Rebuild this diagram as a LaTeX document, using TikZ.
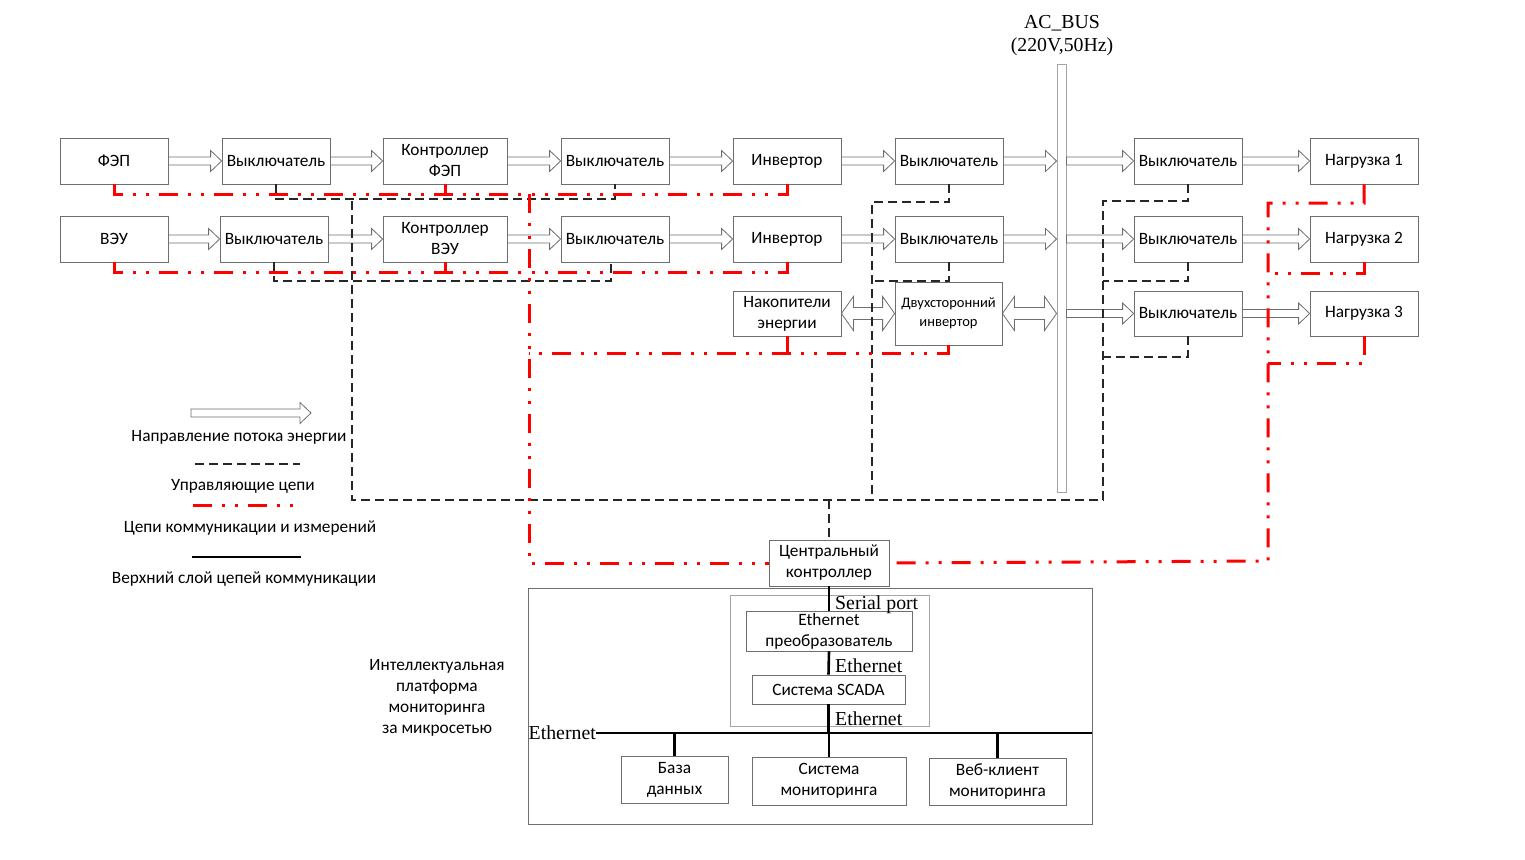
\documentclass[tikz,border=0pt]{standalone}
\usepackage{fontspec}
\setmainfont{Carlito}
\newfontfamily\tms{Liberation Serif}
\usetikzlibrary{calc}
\definecolor{boxgray}{RGB}{110,110,110}
\definecolor{busgray}{RGB}{165,165,165}
\definecolor{commred}{RGB}{255,0,0}
\newcommand\fs{\fontsize{17.3}{21}\selectfont}
\newcommand\fss{\fontsize{14.5}{19}\selectfont}
\newcommand\ftm{\tms\fontsize{19.8}{23}\selectfont}
\newcommand\flowarrow[2]{\draw[flow] let \p1=(#1), \p2=(#2) in
  (\x1,\y1+4) -- (\x2-11,\y1+4) -- (\x2-11,\y1+10.5) -- (\x2,\y1) --
  (\x2-11,\y1-10.5) -- (\x2-11,\y1-4) -- (\x1,\y1-4) -- cycle;}
\newcommand\biarrow[2]{\draw[flow] let \p1=(#1), \p2=(#2) in
  (\x1,\y1) -- (\x1+12,\y1+17) -- (\x1+12,\y1+6) -- (\x2-12,\y1+6) -- (\x2-12,\y1+17) -- (\x2,\y1) --
  (\x2-12,\y1-17) -- (\x2-12,\y1-6) -- (\x1+12,\y1-6) -- (\x1+12,\y1-17) -- cycle;}
\begin{document}
\begin{tikzpicture}[x=1pt,y=-1pt,
  box/.style={draw=boxgray, line width=0.8pt, inner sep=0pt, align=center, font=\fs, text=black},
  wh/.style 2 args={minimum width=#1pt, minimum height=#2pt},
  flow/.style={draw=boxgray, fill=white, line width=0.8pt, line join=miter},
  ctrl/.style={draw=black!85, line width=1.9pt, dash pattern=on 9pt off 5pt},
  comm/.style={draw=commred, line width=3pt, dash pattern=on 19pt off 10pt on 3pt off 10pt on 3pt off 10pt},
  upper/.style={draw=black, line width=2.6pt},
  lbl/.style={font=\fs, inner sep=0pt, align=center},
  tlbl/.style={font=\ftm, inner sep=0pt}]
\useasboundingbox (0,0) rectangle (1525,859);
% AC bus
\node[draw=busgray, line width=0.9pt, wh={9}{428}, inner sep=0pt] (bus) at (1061.5,278) {};
\node[font=\ftm, align=center, inner sep=0pt] (buslbl) at (1062,36) {AC\_BUS\\(220V,50Hz)};
% row 1
\node[box, wh={108}{46}] (fep) at (114,161) {ФЭП};
\node[box, wh={108}{46}] (s11) at (276,161) {Выключатель};
\node[box, wh={124}{46}] (cf) at (445,161) {Контроллер\\ФЭП};
\node[box, wh={108}{46}] (s12) at (615,161) {Выключатель};
\node[box, wh={108}{46}] (inv1) at (787,161) {Инвертор};
\node[box, wh={108}{46}] (s13) at (949,161) {Выключатель};
\node[box, wh={108}{46}] (s14) at (1188,161) {Выключатель};
\node[box, wh={108}{46}] (l1) at (1364,161) {Нагрузка 1};
% row 2
\node[box, wh={108}{46}] (veu) at (114,239) {ВЭУ};
\node[box, wh={108}{46}] (s21) at (274,239) {Выключатель};
\node[box, wh={124}{46}] (cv) at (445,239) {Контроллер\\ВЭУ};
\node[box, wh={108}{46}] (s22) at (615,239) {Выключатель};
\node[box, wh={108}{46}] (inv2) at (787,239) {Инвертор};
\node[box, wh={108}{46}] (s23) at (949,239) {Выключатель};
\node[box, wh={108}{46}] (s24) at (1188,239) {Выключатель};
\node[box, wh={108}{46}] (l2) at (1364,239) {Нагрузка 2};
% row 3
\node[box, wh={108}{45}] (acc) at (787,313.5) {Накопители\\энергии};
\node[box, wh={107}{63}, font=\fss] (binv) at (948.5,313.5) {Двухсторонний\\инвертор};
\node[box, wh={108}{45}] (s34) at (1188,313.5) {Выключатель};
\node[box, wh={108}{45}] (l3) at (1364,313.5) {Нагрузка 3};
% central controller and platform
\node[box, wh={120}{46}] (cc) at (829,563) {Центральный\\контроллер};
\node[draw=boxgray, line width=0.8pt, wh={564}{236}, inner sep=0pt] (plat) at (810,706) {};
\node[draw=busgray, line width=0.9pt, wh={199}{131}, inner sep=0pt] (inner) at (829.5,660.5) {};
\node[box, wh={166}{40}] (eth) at (829,631) {Ethernet\\преобразователь};
\node[box, wh={153}{29}] (scada) at (828.5,689.5) {Система SCADA};
\node[box, wh={107}{47}] (db) at (674.5,779.5) {База\\данных};
\node[box, wh={154}{48}] (mon) at (829,781) {Система\\мониторинга};
\node[box, wh={137}{47}] (web) at (997.5,781.5) {Веб-клиент\\мониторинга};
\node[lbl] (platlbl) at (437,698) {Интеллектуальная\\платформа\\мониторинга\\за микросетью};
% upper communication layer
\node[tlbl, anchor=east] (ethlbl) at (596,733) {Ethernet};
\coordinate (ebR) at (1092,733);
\coordinate (ebL) at (597,733);
\draw[upper] (ethlbl.east) -- (ebR);
\draw[upper] (cc.south) -- (eth.north);
\draw[upper] (eth.south) -- (scada.north);
\draw[upper] (scada.south) -- (scada.south |- ebL);
\draw[upper] (db.north) -- (db.north |- ebL);
\draw[upper] (mon.north) -- (mon.north |- ebL);
\draw[upper] (web.north) -- (web.north |- ebL);
\node[tlbl, anchor=west] (sp) at (835,605) {Serial port};
\node[tlbl, anchor=west] (e1) at (835,666) {Ethernet};
\node[tlbl, anchor=west] (e2) at (835,719) {Ethernet};
% energy flow arrows
\flowarrow{fep.east}{s11.west}
\flowarrow{s11.east}{cf.west}
\flowarrow{cf.east}{s12.west}
\flowarrow{s12.east}{inv1.west}
\flowarrow{inv1.east}{s13.west}
\flowarrow{s13.east}{bus.west |- s13.east}
\flowarrow{bus.east |- s14.west}{s14.west}
\flowarrow{s14.east}{l1.west}
\flowarrow{veu.east}{s21.west}
\flowarrow{s21.east}{cv.west}
\flowarrow{cv.east}{s22.west}
\flowarrow{s22.east}{inv2.west}
\flowarrow{inv2.east}{s23.west}
\flowarrow{s23.east}{bus.west |- s23.east}
\flowarrow{bus.east |- s24.west}{s24.west}
\flowarrow{s24.east}{l2.west}
\biarrow{acc.east}{binv.west |- acc.east}
\biarrow{binv.east}{bus.west |- binv.east}
\flowarrow{bus.east |- s34.west}{s34.west}
\flowarrow{s34.east}{l3.west}
% control circuits
\coordinate (jL) at (352,199);
\coordinate (jBL) at (352,500);
\coordinate (jBR) at (1103,500);
\coordinate (jR1) at (1103,201);
\coordinate (jR2) at (1103,281);
\coordinate (jR3) at (1103,357);
\coordinate (jK2) at (611,281);
\coordinate (jM1) at (872,202);
\coordinate (jM2) at (872,281);
\coordinate (jMB) at (872,500);
\coordinate (jC) at (829,500);
\draw[ctrl] (s11.south) |- (jL) -| (s12.south);
\draw[ctrl] (s21.south) |- (jK2) -- (jK2 |- s22.south);
\draw[ctrl] (s14.south) |- (jR1) -- (jBR) -- (jBL) -- (jL);
\draw[ctrl] (s24.south) |- (jR2);
\draw[ctrl] (s34.south) |- (jR3);
\draw[ctrl] (s13.south) |- (jM1) -- (jMB);
\draw[ctrl] (s23.south) |- (jM2);
\draw[ctrl] (jC) -- (cc.north);
% communication and measurement circuits
\coordinate (rA) at (529,194);
\coordinate (rB) at (529,272);
\coordinate (rC) at (529,353);
\coordinate (rD) at (529,563);
\coordinate (rE) at (1268,561);
\coordinate (rL1) at (1268,203);
\coordinate (rL2) at (1268,273);
\coordinate (rL3) at (1268,363);
\draw[comm] (fep.south) |- (rA);
\draw[comm] (inv1.south) |- (rA);
\draw[comm] (cf.south) -- (cf.south |- rA);
\draw[comm] (veu.south) |- (rB);
\draw[comm] (inv2.south) |- (rB);
\draw[comm] (cv.south) -- (cv.south |- rB);
\draw[comm] (rA) -- (rD) -- (cc.west);
\draw[comm] (binv.south) |- (rC);
\draw[comm] (acc.south) -- (acc.south |- rC);
\draw[comm] (l1.south) |- (rL1) -- (rE) -- (cc.east);
\draw[comm] (l2.south) |- (rL2);
\draw[comm] (l3.south) |- (rL3);
% legend
\coordinate (lgA1) at (191,413); \coordinate (lgA2) at (311,413);
\coordinate (lgB1) at (195,464); \coordinate (lgB2) at (300,464);
\coordinate (lgC1) at (193,505); \coordinate (lgC2) at (300,505);
\coordinate (lgD1) at (192,557); \coordinate (lgD2) at (301,557);
\flowarrow{lgA1}{lgA2}
\draw[ctrl] (lgB1) -- (lgB2);
\draw[comm] (lgC1) -- (lgC2);
\draw[upper] (lgD1) -- (lgD2);
\node[lbl] (lgtA) at (239,437) {Направление потока энергии};
\node[lbl] (lgtB) at (243,486) {Управляющие цепи};
\node[lbl] (lgtC) at (250,528) {Цепи коммуникации и измерений};
\node[lbl] (lgtD) at (244,579) {Верхний слой цепей коммуникации};
\end{tikzpicture}
\end{document}
